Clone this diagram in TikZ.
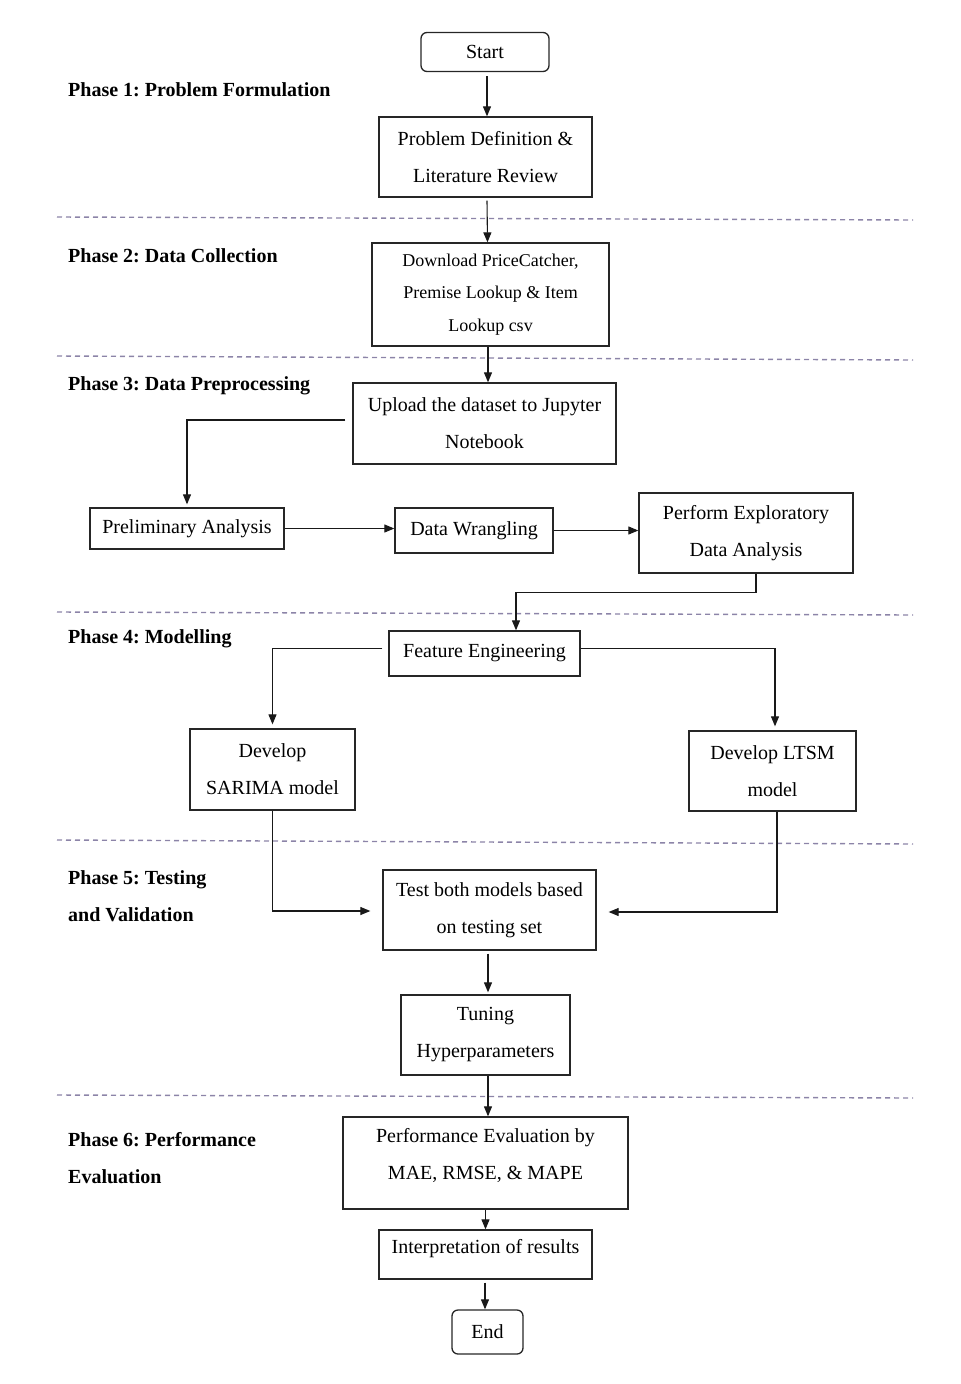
\documentclass[tikz,border=0pt]{standalone}
\usepackage{fontspec}
\setmainfont{Liberation Serif}
\usetikzlibrary{arrows.meta,calc}
\definecolor{sepcol}{RGB}{140,132,168}
\frenchspacing
\begin{document}
\begin{tikzpicture}[x=1pt,y=-1pt,
  box/.style={draw=black!85,line width=1.3pt,inner sep=0pt,align=center,font=\fontsize{20}{37}\selectfont},
  term/.style={box,rounded corners=6pt},
  arr/.style={draw=black!90,line width=1.1pt,-{Triangle[length=10pt,width=8pt]}},
  sep/.style={draw=sepcol,line width=1.4pt,dash pattern=on 5pt off 4pt},
  phase/.style={anchor=west,inner sep=0pt,align=left,font=\fontsize{20}{37}\selectfont\bfseries}]
\useasboundingbox (0,0) rectangle (961,1384);
% separators
\draw[sep] (57,217) -- (913,220);
\draw[sep] (57,356) -- (913,360);
\draw[sep] (57,612) -- (913,615);
\draw[sep] (57,840) -- (913,844);
\draw[sep] (57,1095) -- (913,1098);
% phase labels
\node[phase] (p1) at (68,90) {Phase 1: Problem Formulation};
\node[phase] (p2) at (68,256) {Phase 2: Data Collection};
\node[phase] (p3) at (68,386) {Phase 3: Data Preprocessing};
\node[phase] (p4) at (68,639) {Phase 4: Modelling};
\node[phase] (p5) at (68,896) {Phase 5: Testing\\and Validation};
\node[phase] (p6) at (68,1158) {Phase 6: Performance\\Evaluation};
% boxes
\node[term,minimum width=128pt,minimum height=39pt] (start) at (485,52) {Start};
\node[box,minimum width=213pt,minimum height=80pt] (prob) at (485.5,157) {Problem Definition \&\\Literature Review};
\node[box,minimum width=237pt,minimum height=103pt,font=\fontsize{18}{32.5}\selectfont] (down) at (490.5,294.5) {Download PriceCatcher,\\Premise Lookup \& Item\\Lookup csv};
\node[box,minimum width=263pt,minimum height=81pt] (up) at (484.5,423.5) {Upload the dataset to Jupyter\\Notebook};
\node[box,minimum width=194pt,minimum height=41pt] (pre) at (187,528.5) {Preliminary Analysis};
\node[box,minimum width=158pt,minimum height=45pt] (wr) at (474,530.5) {Data Wrangling};
\node[box,minimum width=214pt,minimum height=80pt] (eda) at (746,533) {Perform Exploratory\\Data Analysis};
\node[box,minimum width=191pt,minimum height=45pt] (fe) at (484.5,653.5) {Feature Engineering};
\node[box,minimum width=165pt,minimum height=81pt] (sar) at (272.5,769.5) {Develop\\SARIMA model};
\node[box,minimum width=167pt,minimum height=80pt] (lst) at (772.5,771) {Develop LTSM\\model};
\node[box,minimum width=213pt,minimum height=80pt] (test) at (489.5,910) {Test both models based\\on testing set};
\node[box,minimum width=169pt,minimum height=80pt] (tun) at (485.5,1035) {Tuning\\Hyperparameters};
\node[box,minimum width=285pt,minimum height=92pt] (perf) at (485.5,1163) {};
\node[font=\fontsize{20}{37}\selectfont,align=center,inner sep=0pt] (perft) at (485.5,1155) {Performance Evaluation by\\MAE, RMSE, \& MAPE};
\node[box,minimum width=213pt,minimum height=49pt] (intp) at (485.5,1254.5) {};
\node[font=\fontsize{20}{37}\selectfont,inner sep=0pt] (intpt) at (485.5,1249) {Interpretation of results};
\node[term,minimum width=71pt,minimum height=44pt] (end) at (487.5,1332) {End};
% connectors
\draw[arr] ([xshift=2pt]start.south) ++(0,4) -- ([xshift=1.5pt]prob.north);
\draw[arr] ([xshift=1.5pt]prob.south) ++(0,3) -- ([xshift=-3pt]down.north);
\draw[arr] ([xshift=-2.5pt]down.south) -- ([xshift=3.5pt]up.north);
\draw[arr] ([xshift=-7pt,yshift=3.5pt]up.west) -| ([yshift=3pt]pre.north);
\draw[arr] (pre.east) -- (wr.west |- pre.east);
\draw[arr] (wr.east) -- (eda.west |- wr.east);
\draw[arr] ([xshift=10pt]eda.south) -- ++(0,19) -| ([xshift=31.5pt]fe.north);
\draw[arr] ([xshift=-6pt,yshift=5pt]fe.west) -| ([yshift=4pt]sar.north);
\draw[arr] ([yshift=5pt]fe.east) -| ([xshift=2.5pt,yshift=4pt]lst.north);
\draw[arr] (sar.south) |- ([xshift=-12pt,yshift=-1pt]test.west);
\draw[arr] ([xshift=4.5pt]lst.south) |- ([xshift=12pt,yshift=-2pt]test.east);
\draw[arr] ([xshift=-1.5pt,yshift=-3pt]test.south) -- ([xshift=2.5pt,yshift=2pt]tun.north);
\draw[arr] ([xshift=2.5pt]tun.south) -- ([xshift=2.5pt]perf.north);
\draw[arr] (perf.south) -- (intp.north);
\draw[arr] ([xshift=-0.5pt,yshift=-3pt]intp.south) -- ([xshift=-2.5pt]end.north);
\end{tikzpicture}
\end{document}
